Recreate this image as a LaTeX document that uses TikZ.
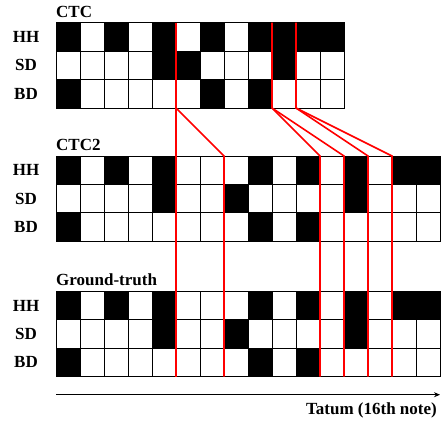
\documentclass[tikz,border=0pt]{standalone}
\usepackage{fontspec}
\setmainfont{Liberation Serif}
\usetikzlibrary{arrows.meta,positioning}

\begin{document}
\begin{tikzpicture}[x=1pt, y=-1pt,
        cell/.style = {draw=black, line width=0.8pt, fill=white},
        hit/.style = {draw=black, line width=0.8pt, fill=black},
        lab/.style = {font=\fontsize{17}{20}\selectfont\bfseries, inner sep=0pt},
        title/.style = {font=\fontsize{17}{20}\selectfont\bfseries, anchor=base west, inner sep=0pt},
        align/.style = {draw=red, line width=1.6pt, line join=miter},
        axis/.style = {-{Stealth[length=6pt, width=5pt]}, line width=0.8pt}
    ]
        \useasboundingbox (0,0) rectangle (442,424);

        % Top: CTC (12 tatums)
        \node[title] (ctc) at (56, 17) {CTC};
        \foreach \c in {0,...,11}
            \foreach \r in {0,1,2}
                \draw[cell] (56+24*\c, 22.7+28.43*\r) rectangle ++(24, 28.43);
        \foreach \c/\r in {0/0,2/0,4/0,6/0,8/0,9/0,10/0,11/0, 4/1,5/1,9/1, 0/2,6/2,8/2}
            \draw[hit] (56+24*\c, 22.7+28.43*\r) rectangle ++(24, 28.43);
        \foreach \c in {0,...,12} {
            \coordinate (ctc-t\c) at (56+24*\c, 22.7);
            \coordinate (ctc-b\c) at (56+24*\c, 108);
        }

        % Middle: CTC2 (16 tatums)
        \node[title] (ctc2) at (56, 150.5) {CTC2};
        \foreach \c in {0,...,15}
            \foreach \r in {0,1,2}
                \draw[cell] (56+24*\c, 156+28.43*\r) rectangle ++(24, 28.43);
        \foreach \c/\r in {0/0,2/0,4/0,8/0,10/0,12/0,14/0,15/0, 4/1,7/1,12/1, 0/2,8/2,10/2}
            \draw[hit] (56+24*\c, 156+28.43*\r) rectangle ++(24, 28.43);
        \foreach \c in {0,...,16}
            \coordinate (two-t\c) at (56+24*\c, 156);

        % Bottom: Ground-truth (16 tatums)
        \node[title] (gt) at (56, 285.5) {Ground-truth};
        \foreach \c in {0,...,15}
            \foreach \r in {0,1,2}
                \draw[cell] (56+24*\c, 291.3+28.45*\r) rectangle ++(24, 28.45);
        \foreach \c/\r in {0/0,2/0,4/0,8/0,10/0,12/0,14/0,15/0, 4/1,7/1,12/1, 0/2,8/2,10/2}
            \draw[hit] (56+24*\c, 291.3+28.45*\r) rectangle ++(24, 28.45);
        \foreach \c in {0,...,16}
            \coordinate (gt-b\c) at (56+24*\c, 376.7);

        % Row labels
        \foreach \g/\y in {ctc/22.7, two/156, gt/291.3} {
            \node[lab] (\g-hh) at (26, \y+14.2) {HH};
            \node[lab] (\g-sd) at (26, \y+42.6) {SD};
            \node[lab] (\g-bd) at (26, \y+71.1) {BD};
        }

        % Alignment paths
        \draw[align] (ctc-t5) -- (ctc-b5) -- (gt-b5);
        \draw[align] (ctc-b5) -- (two-t7) -- (gt-b7);
        \draw[align] (ctc-t9) -- (ctc-b9) -- (two-t11) -- (gt-b11);
        \draw[align] (ctc-b9) -- (two-t12) -- (gt-b12);
        \draw[align] (ctc-t10) -- (ctc-b10) -- (two-t13) -- (gt-b13);
        \draw[align] (ctc-b10) -- (two-t14) -- (gt-b14);

        % Time axis
        \coordinate (t0) at (56, 394.7);
        \coordinate (t1) at (440, 394.7);
        \draw[axis] (t0) -- (t1);
        \node[lab, anchor=base east] (tatum) at (437, 414) {Tatum (16th note)};

    \end{tikzpicture}
\end{document}
